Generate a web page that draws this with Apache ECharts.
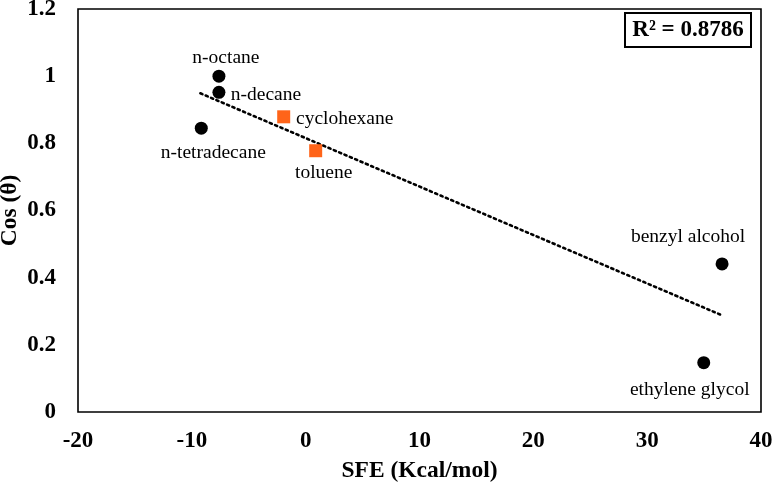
<!DOCTYPE html>
<html><head><meta charset="utf-8">
<script src="https://cdn.jsdelivr.net/npm/echarts@6/dist/echarts.min.js"></script>
<style>html,body{margin:0;padding:0;background:#fff}#c{width:773px;height:488px}</style>
</head><body><div id="c"></div>
<script>
// Data
var alkaneNames = ['n-octane', 'n-decane', 'n-tetradecane', 'benzyl alcohol', 'ethylene glycol'];
var alkaneSFE   = [-7.62, -7.62, -9.17, 36.58, 34.97];
var alkaneCos   = [1.0, 0.952, 0.845, 0.441, 0.147];
var aromNames = ['cyclohexane', 'toluene'];
var aromSFE   = [-1.93, 0.88];
var aromCos   = [0.879, 0.778];
var trendSFE = [-9.25, 36.5];
var trendCos = [0.949, 0.289];
var xTicks = [-20, -10, 0, 10, 20, 30, 40];
var yTicks = [0, 0.2, 0.4, 0.6, 0.8, 1, 1.2];
var r2Text = 'R² = 0.8786';

// label offsets (style, not data)
var labelOffsets = {
  'n-octane': [7, -18],
  'n-decane': [47, 3],
  'n-tetradecane': [12, 25],
  'benzyl alcohol': [-34, -27],
  'ethylene glycol': [-14, 27],
  'cyclohexane': [61, 2],
  'toluene': [8, 22]
};
var FONT = '"Liberation Serif", "Times New Roman", serif';
function build(names, xs, ys) {
  return names.map(function (n, i) {
    return {
      name: n, value: [xs[i], ys[i]],
      label: { show: true, position: 'inside', offset: labelOffsets[n], formatter: n,
               color: '#000', fontFamily: FONT, fontSize: 19.5 }
    };
  });
}
var chart = echarts.init(document.getElementById('c'));
chart.setOption({
  animation: false,
  backgroundColor: '#fff',
  grid: { left: 78, right: 12, top: 9, bottom: 76, show: true, borderColor: '#000', borderWidth: 1.6,
          containLabel: false, outerBoundsMode: 'none' },
  xAxis: {
    type: 'value', min: xTicks[0], max: xTicks[xTicks.length - 1], interval: 10,
    name: 'SFE (Kcal/mol)', nameLocation: 'middle', nameGap: 47, nameMoveOverlap: false,
    nameTextStyle: { fontFamily: FONT, fontWeight: 'bold', fontSize: 23.5, color: '#000' },
    axisLine: { show: false }, axisTick: { show: false }, splitLine: { show: false },
    axisLabel: { fontFamily: FONT, fontWeight: 'bold', fontSize: 23, color: '#000', margin: 18, hideOverlap: false }
  },
  yAxis: {
    type: 'value', min: yTicks[0], max: yTicks[yTicks.length - 1], interval: 0.2,
    name: 'Cos (θ)', nameLocation: 'middle', nameGap: 56, nameRotate: 90, nameMoveOverlap: false,
    nameTextStyle: { fontFamily: FONT, fontWeight: 'bold', fontSize: 23.5, color: '#000' },
    axisLine: { show: false }, axisTick: { show: false }, splitLine: { show: false },
    axisLabel: { fontFamily: FONT, fontWeight: 'bold', fontSize: 23, color: '#000', margin: 22,
      formatter: function (v) { return String(Math.round(v * 10) / 10); } }
  },
  series: [
    {
      type: 'line', data: trendSFE.map(function (x, i) { return [x, trendCos[i]]; }),
      showSymbol: false, symbol: 'none', silent: true, z: 1,
      lineStyle: { color: '#000', width: 2.6, type: [2.2, 3.6], cap: 'round' }
    },
    {
      type: 'scatter', data: build(alkaneNames, alkaneSFE, alkaneCos),
      symbol: 'circle', symbolSize: 13, itemStyle: { color: '#000', opacity: 1 }, z: 3
    },
    {
      type: 'scatter', data: build(aromNames, aromSFE, aromCos),
      symbol: 'rect', symbolSize: 13, itemStyle: { color: '#FF6419', opacity: 1 }, z: 3
    }
  ],
  graphic: [
    { type: 'rect', shape: { x: 625, y: 13, width: 126, height: 34 }, style: { fill: '#fff', stroke: '#000', lineWidth: 2 }, z: 10 },
    { type: 'text', x: 688, y: 30, style: { text: r2Text, fill: '#000', font: 'bold 23px ' + FONT, align: 'center', verticalAlign: 'middle' }, z: 11 }
  ]
});
</script></body></html>
